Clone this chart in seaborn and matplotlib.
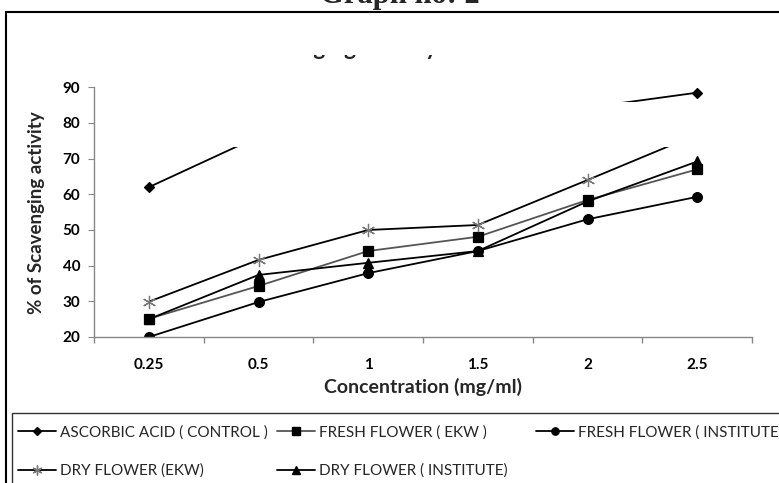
import numpy as np
import pandas as pd
import matplotlib
matplotlib.use("Agg")
import matplotlib.pyplot as plt
import seaborn as sns
from matplotlib.patches import Rectangle
from matplotlib.lines import Line2D

# ---- data ----
concentrations = ["0.25", "0.5", "1", "1.5", "2", "2.5"]
ascorbic_acid = [62.0, 76.2, 79.5, 82.0, 84.3, 88.5]
fresh_flower_ekw = [25.1, 34.3, 44.1, 48.1, 58.4, 67.0]
fresh_flower_inst = [20.0, 29.8, 37.9, 44.1, 53.0, 59.3]
dry_flower_ekw = [29.9, 41.6, 50.0, 51.4, 64.0, 76.8]
dry_flower_inst = [25.0, 37.4, 40.8, 44.1, 58.0, 69.2]
series_names = ["ASCORBIC ACID ( CONTROL )", "FRESH FLOWER ( EKW )",
                "FRESH FLOWER ( INSTITUTE", "DRY FLOWER (EKW)",
                "DRY FLOWER ( INSTITUTE)"]
y_ticks = [20, 30, 40, 50, 60, 70, 80, 90]

sns.set_theme(style="white")
plt.rcParams["font.family"] = ["Lato", "DejaVu Sans"]

W, H = 779, 483
fig = plt.figure(figsize=(W / 100, H / 100), dpi=100)
fig.patch.set_facecolor("white")

def fx(px):
    return px / W

def fy(py):
    return 1 - py / H

ax = fig.add_axes([fx(94), fy(337), fx(752) - fx(94), fy(87.3) - fy(337)])
ax.set_facecolor("white")

pos = np.arange(len(concentrations))
styles = [
    (ascorbic_acid, "D", "black", "black", 5.5, 1.3),
    (fresh_flower_ekw, "s", "#555555", "black", 7.0, 1.3),
    (fresh_flower_inst, "o", "black", "black", 7.0, 1.3),
    (dry_flower_ekw, (6, 2, 0), "black", "#777777", 9.5, 1.3),
    (dry_flower_inst, "^", "black", "black", 7.0, 1.3),
]
handles = []
for name, (vals, mk, lc, mc, ms, lw) in zip(series_names, styles):
    df = pd.DataFrame({"pos": pos, "value": vals})
    sns.lineplot(data=df, x="pos", y="value", ax=ax, color=lc, marker=mk,
                 markersize=ms, markerfacecolor=mc, markeredgecolor=mc,
                 markeredgewidth=0.9, linewidth=lw, legend=False)
    handles.append(Line2D([0], [0], color=lc, marker=mk, markersize=ms * 0.75,
                          markerfacecolor=mc, markeredgecolor=mc, linewidth=lw))

ax.set_xlim(-0.5, len(concentrations) - 0.5)
ax.set_ylim(20, 90)
ax.set_yticks(y_ticks)
ax.set_yticklabels([str(v) for v in y_ticks], fontweight="bold", fontsize=11)
ax.set_xticks(pos)
ax.set_xticklabels(concentrations, fontweight="bold", fontsize=11)
ax.set_xticks(np.arange(-0.5, len(concentrations)), minor=True)
ax.tick_params(axis="x", which="major", length=0, pad=15, colors="black")
ax.tick_params(axis="x", which="minor", length=4, width=1, color="#888888",
               direction="out", bottom=True)
ax.tick_params(axis="y", which="major", length=4.3, width=0.8, color="#888888",
               direction="out", left=True, pad=5.5, labelcolor="black")
for s in ["top", "right"]:
    ax.spines[s].set_visible(False)
for s in ["left", "bottom"]:
    ax.spines[s].set_color("#888888")
    ax.spines[s].set_linewidth(1.0)
ax.set_xlabel("")
ax.set_ylabel("")

fig.text(fx(423), fy(387), "Concentration (mg/ml)", ha="center", va="center",
         fontsize=14, fontweight="bold")
fig.text(fx(37), fy(213), "% of Scavenging activity", ha="center", va="center",
         rotation=90, fontsize=13.5, fontweight="bold")

# occluding white box over the plot (as in the reference)
fig.patches.append(Rectangle((fx(110), fy(147)), fx(722) - fx(110), fy(102) - fy(147),
                             transform=fig.transFigure, facecolor="white",
                             edgecolor="none", zorder=5))

# remains of the hidden chart title (only descenders visible)
renderer = fig.canvas.get_renderer()
tfs = 16.5
def tw(s):
    t = fig.text(0, 0, s, fontsize=tfs, fontweight="bold")
    w = t.get_window_extent(renderer).width
    t.remove()
    return w
g1 = (tw("Scaven") + tw("Scaveng")) / 2
x0 = 319 - g1
fig.text(fx(x0), fy(55), "Scavenging activity", fontsize=tfs, fontweight="bold",
         va="baseline", ha="left", zorder=1)
fig.patches.append(Rectangle((fx(60), fy(55.5)), fx(740) - fx(60), fy(14) - fy(55.5),
                             transform=fig.transFigure, facecolor="white",
                             edgecolor="none", zorder=6))

# cut-off page title
fig.text(fx(400), fy(3.5), "Graph no: 2", ha="center", va="baseline",
         fontsize=22, fontweight="bold", family="Liberation Serif")

# outer frame and legend box
fig.patches.append(Rectangle((fx(6), -0.1), 1.2, fy(12) + 0.1,
                             transform=fig.transFigure, facecolor="none",
                             edgecolor="black", linewidth=1.5, zorder=7))
fig.patches.append(Rectangle((fx(12), -0.1), 1.2, fy(412.7) + 0.1,
                             transform=fig.transFigure, facecolor="none",
                             edgecolor="#333333", linewidth=1.0, zorder=7))

# legend, three columns placed like the reference
cols = [([0, 3], 18), ([1, 4], 277), ([2], 536)]
for idx, xpx in cols:
    leg = fig.legend([handles[i] for i in idx], [series_names[i] for i in idx],
                     loc="upper left", bbox_to_anchor=(fx(xpx), fy(425.5)),
                     bbox_transform=fig.transFigure, frameon=False,
                     fontsize=11, handlelength=2.5, handletextpad=0.25,
                     borderpad=0, borderaxespad=0, labelspacing=1.57)

fig.savefig("out.png", dpi=100, facecolor="white")
